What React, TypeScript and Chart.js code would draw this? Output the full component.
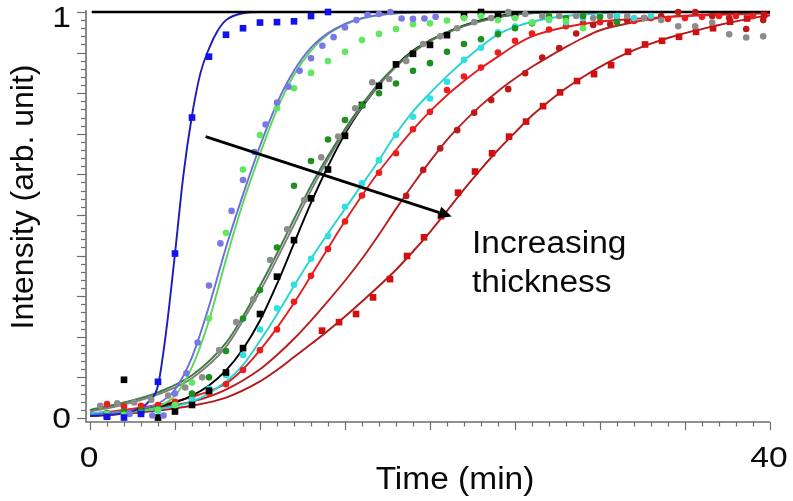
import React, { useEffect, useRef } from 'react';
import { Chart, registerables } from 'chart.js';

Chart.register(...registerables);

// ---------- axis ranges & tick labels ----------
const X_MIN = -0.235;
const X_MAX = 40;
const Y_MIN = -0.01;
const Y_MAX = 1.0;
const X_TICK_LABELS = [0, 40];
const Y_TICK_LABELS = [0, 1];
const X_MINOR_STEP = 1;
const X_MAJOR_EVERY = 5;
const Y_MINOR_STEP = 0.02;
const Y_MAJOR_EVERY = 5;
const X_TITLE = 'Time (min)';
const Y_TITLE = 'Intensity (arb. unit)';
const NOTE_LINES = ['Increasing', 'thickness'];
const ARROW_FROM = [6.8, 0.693];
const ARROW_TO = [21.28, 0.496];

// ---------- reference line at 1 ----------
const TOP_T = [0.1, 40];
const TOP_Y = [1, 1];

// ---------- blue squares ----------
const BLUE_PTS_T = [1, 2, 3, 4, 5, 6, 7, 8, 9, 10, 11, 12, 13, 14];
const BLUE_PTS_Y = [0.003, 0.001, 0.01, 0.089, 0.405, 0.74, 0.89, 0.944, 0.96, 0.974, 0.975, 0.977, 0.99, 1.0];
const BLUE_FIT_T = [0, 1, 2, 3, 3.5, 4, 4.5, 5, 5.5, 6, 6.5, 7, 7.5, 8, 9, 10, 12];
const BLUE_FIT_Y = [0.005, 0.007, 0.012, 0.025, 0.042, 0.08, 0.22, 0.405, 0.6, 0.745, 0.85, 0.91, 0.953, 0.98, 0.997, 1.0, 1.0];

// ---------- purple circles ----------
const PURPLE_PTS_T = [2.33, 3.67, 4.33, 5.0, 5.67, 6.33, 7.0, 7.67, 8.33, 9.0, 9.67, 10.33, 11.0, 11.67, 12.33, 13.0, 13.67, 14.33, 15.0, 15.67, 16.33, 17.0, 17.67, 18.33, 19.0, 19.67, 20.33];
const PURPLE_PTS_Y = [0.01, 0.006, 0.006, 0.06, 0.11, 0.186, 0.326, 0.43, 0.51, 0.586, 0.655, 0.723, 0.777, 0.816, 0.855, 0.886, 0.917, 0.938, 0.962, 0.98, 0.993, 0.995, 1.0, 0.984, 0.983, 0.984, 0.988];
const PURPLE_FIT_T = [0, 2, 3, 4, 5, 6, 7, 8, 9, 10, 11, 12, 13, 14, 15, 16, 17, 18, 20];
const PURPLE_FIT_Y = [0.008, 0.015, 0.022, 0.035, 0.07, 0.15, 0.275, 0.42, 0.55, 0.67, 0.775, 0.855, 0.912, 0.948, 0.971, 0.985, 0.993, 0.997, 1.0];

// ---------- light green circles ----------
const GREEN_PTS_T = [1, 2, 3, 4, 5, 6, 7, 8, 9, 10, 11, 12, 13, 14, 15, 16, 17, 18, 19, 20, 21, 22, 23, 24, 25, 26, 27, 28, 29];
const GREEN_PTS_Y = [0.01, 0.008, 0.012, 0.02, 0.032, 0.087, 0.245, 0.456, 0.612, 0.697, 0.763, 0.812, 0.85, 0.879, 0.902, 0.931, 0.946, 0.958, 0.97, 0.972, 0.979, 0.985, 0.99, 0.98, 0.985, 0.974, 0.982, 0.978, 0.96];
const GREEN_FIT_T = [0, 2, 3, 4, 5, 6, 7, 8, 9, 10, 11, 12, 13, 14, 15, 16, 17, 18, 20];
const GREEN_FIT_Y = [0.006, 0.012, 0.018, 0.028, 0.055, 0.125, 0.24, 0.39, 0.53, 0.65, 0.76, 0.845, 0.905, 0.945, 0.969, 0.984, 0.992, 0.997, 1.0];

// ---------- dark green circles ----------
const DKGREEN_PTS_T = [1, 2, 3, 4, 5, 6, 7, 8, 9, 10, 11, 12, 13, 14, 15, 16, 17, 18, 19, 20, 21, 22, 23, 24, 25, 26, 27, 28, 29, 30, 31];
const DKGREEN_PTS_Y = [0.012, 0.015, 0.018, 0.022, 0.032, 0.06, 0.1, 0.165, 0.245, 0.315, 0.42, 0.572, 0.633, 0.686, 0.734, 0.77, 0.8, 0.824, 0.855, 0.874, 0.902, 0.921, 0.933, 0.945, 0.96, 0.972, 0.99, 0.985, 0.99, 0.988, 0.975];
const DKGREEN_FIT_T = [0, 2, 4, 6, 8, 9, 10, 11, 12, 13, 14, 15, 16, 17, 18, 19, 20, 21, 22, 23, 24, 25, 27];
const DKGREEN_FIT_Y = [0.02, 0.038, 0.063, 0.105, 0.185, 0.25, 0.325, 0.405, 0.49, 0.572, 0.645, 0.712, 0.772, 0.825, 0.868, 0.903, 0.93, 0.95, 0.966, 0.978, 0.988, 0.994, 1.0];

// ---------- gray circles ----------
const GRAY_PTS_T = [0.6, 1.6, 2.6, 3.6, 4.6, 5.6, 6.6, 7.6, 8.6, 9.6, 10.6, 11.6, 12.6, 13.6, 14.6, 15.6, 16.6, 17.6, 18.6, 19.6, 20.6, 21.6, 22.6, 23.6, 24.6, 25.6, 26.6, 27.6, 28.6, 29.6, 30.6, 31.6, 32.6, 33.6, 34.6, 35.6, 36.6, 37.6, 38.6, 39.6];
const GRAY_PTS_Y = [0.03, 0.036, 0.038, 0.045, 0.055, 0.075, 0.1, 0.167, 0.236, 0.292, 0.389, 0.465, 0.537, 0.642, 0.693, 0.763, 0.827, 0.835, 0.879, 0.921, 0.94, 0.96, 0.975, 0.985, 1.0, 0.995, 0.99, 0.99, 0.99, 0.985, 0.99, 0.99, 0.985, 0.98, 0.965, 0.965, 0.974, 0.945, 0.937, 0.94];
const GRAY_FIT_T = [0, 2, 4, 6, 8, 9, 10, 11, 12, 13, 14, 15, 16, 17, 18, 19, 20, 21, 22, 23, 24, 25, 27];
const GRAY_FIT_Y = [0.016, 0.033, 0.058, 0.098, 0.175, 0.24, 0.312, 0.392, 0.476, 0.56, 0.637, 0.706, 0.767, 0.82, 0.865, 0.9, 0.928, 0.948, 0.965, 0.977, 0.987, 0.993, 1.0];

// ---------- black squares ----------
const BLACK_PTS_T = [1, 2, 3, 4, 5, 6, 7, 8, 9, 10, 11, 12, 13, 14, 15, 16, 17, 18, 19, 20, 21, 22, 23, 24, 25];
const BLACK_PTS_Y = [0.005, 0.094, 0.016, 0.001, 0.016, 0.032, 0.067, 0.112, 0.172, 0.256, 0.348, 0.438, 0.541, 0.612, 0.695, 0.771, 0.818, 0.871, 0.897, 0.919, 0.943, 0.993, 1.0, 0.993, 0.993];
const BLACK_FIT_T = [0, 2, 3, 4, 5, 6, 7, 8, 9, 10, 11, 12, 13, 14, 15, 16, 17, 18, 19, 20, 21, 22, 23, 24, 25, 27];
const BLACK_FIT_Y = [0.005, 0.012, 0.02, 0.028, 0.038, 0.055, 0.08, 0.117, 0.17, 0.24, 0.33, 0.43, 0.53, 0.62, 0.7, 0.765, 0.82, 0.868, 0.905, 0.93, 0.95, 0.967, 0.98, 0.99, 0.996, 1.0];

// ---------- cyan circles ----------
const CYAN_PTS_T = [4, 5, 6, 7, 8, 9, 10, 11, 12, 13, 14, 15, 16, 17, 18, 19, 20, 21, 22, 23, 24, 25, 26, 27, 28, 29, 30, 31, 32, 33];
const CYAN_PTS_Y = [0.018, 0.03, 0.045, 0.072, 0.105, 0.155, 0.218, 0.27, 0.328, 0.392, 0.448, 0.52, 0.578, 0.635, 0.697, 0.742, 0.787, 0.828, 0.882, 0.912, 0.95, 0.964, 0.974, 0.98, 0.975, 0.985, 0.99, 0.99, 0.985, 0.99];
const CYAN_FIT_T = [0, 2, 4, 6, 8, 9, 10, 11, 12, 13, 14, 15, 16, 17, 18, 19, 20, 21, 22, 23, 24, 25, 26, 28, 30, 32];
const CYAN_FIT_Y = [0.012, 0.015, 0.022, 0.04, 0.09, 0.13, 0.19, 0.255, 0.325, 0.392, 0.455, 0.515, 0.575, 0.635, 0.7, 0.755, 0.8, 0.842, 0.88, 0.915, 0.945, 0.963, 0.976, 0.99, 0.997, 1.0];

// ---------- red circles ----------
const RED_PTS_T = [1, 2, 3, 4, 5, 6, 7, 8, 9, 10, 11, 12, 13, 14, 15, 16, 17, 18, 19, 20, 21, 22, 23, 24, 25, 26, 27, 28, 29, 30, 31, 32, 33, 34, 35, 36, 37, 38, 39];
const RED_PTS_Y = [0.034, 0.028, 0.03, 0.032, 0.04, 0.048, 0.062, 0.083, 0.118, 0.167, 0.218, 0.286, 0.35, 0.416, 0.484, 0.548, 0.604, 0.652, 0.711, 0.754, 0.808, 0.841, 0.863, 0.9, 0.929, 0.947, 0.957, 0.965, 0.972, 0.975, 0.98, 0.978, 0.985, 0.983, 0.985, 0.988, 0.99, 0.99, 0.99];
const RED_FIT_T = [0, 2, 4, 6, 8, 9, 10, 11, 12, 13, 14, 15, 16, 17, 18, 19, 20, 21, 22, 23, 24, 25, 26, 28, 30, 32, 34, 37, 40];
const RED_FIT_Y = [0.01, 0.02, 0.032, 0.052, 0.085, 0.12, 0.167, 0.222, 0.283, 0.35, 0.418, 0.485, 0.548, 0.607, 0.66, 0.71, 0.755, 0.795, 0.83, 0.862, 0.89, 0.918, 0.94, 0.963, 0.976, 0.983, 0.988, 0.993, 0.997];

// ---------- dark red circles ----------
const DKRED_PTS_T = [18.6, 19.6, 20.6, 21.6, 22.6, 23.6, 24.6, 25.6, 26.6, 27.6, 28.6, 29.6, 30.6, 31.6, 32.6, 33.6, 34.6, 35.6, 36.6, 37.6, 38.6, 39.6];
const DKRED_PTS_Y = [0.547, 0.611, 0.664, 0.709, 0.752, 0.783, 0.81, 0.849, 0.888, 0.911, 0.947, 0.968, 0.97, 0.979, 0.985, 0.99, 1.0, 1.0, 0.99, 0.985, 0.958, 0.98];
const DKRED_FIT_T = [0, 2, 4, 6, 8, 10, 11, 12, 13, 14, 15, 16, 17, 18, 19, 20, 21, 22, 23, 24, 25, 26, 27, 28, 29, 30, 32, 34, 37, 40];
const DKRED_FIT_Y = [0.008, 0.015, 0.025, 0.04, 0.07, 0.12, 0.155, 0.195, 0.24, 0.288, 0.338, 0.392, 0.452, 0.515, 0.575, 0.632, 0.685, 0.73, 0.77, 0.805, 0.836, 0.865, 0.89, 0.914, 0.936, 0.955, 0.975, 0.988, 0.995, 0.998];

// ---------- red squares ----------
const RSQ_PTS_T = [13.65, 14.65, 15.65, 16.65, 17.65, 18.65, 19.65, 20.65, 21.65, 22.65, 23.65, 24.65, 25.65, 26.65, 27.65, 28.65, 29.65, 30.65, 31.65, 32.65, 33.65, 34.65, 35.65, 36.65, 37.65, 38.65, 39.65];
const RSQ_PTS_Y = [0.215, 0.236, 0.256, 0.297, 0.342, 0.399, 0.445, 0.497, 0.555, 0.607, 0.652, 0.693, 0.73, 0.768, 0.802, 0.83, 0.847, 0.869, 0.902, 0.92, 0.929, 0.939, 0.951, 0.96, 0.976, 0.984, 0.993];
const RSQ_FIT_T = [0, 2, 4, 6, 8, 10, 11, 12, 13, 14, 15, 16, 17, 18, 19, 20, 21, 22, 23, 24, 25, 26, 27, 28, 29, 30, 31, 32, 33, 34, 35, 36, 37, 38, 39, 40];
const RSQ_FIT_Y = [0.005, 0.01, 0.018, 0.03, 0.05, 0.09, 0.118, 0.15, 0.182, 0.215, 0.25, 0.287, 0.325, 0.365, 0.41, 0.458, 0.51, 0.563, 0.613, 0.66, 0.703, 0.745, 0.78, 0.812, 0.84, 0.865, 0.887, 0.906, 0.922, 0.936, 0.948, 0.958, 0.968, 0.977, 0.985, 0.992];

// ---------- styling (kept apart from data) ----------
type Series = { pt: number[]; py: number[]; ft: number[]; fy: number[]; pc: string; lc: string; shape: 'circle' | 'rect' };
const SERIES: Series[] = [
  { pt: BLUE_PTS_T, py: BLUE_PTS_Y, ft: BLUE_FIT_T, fy: BLUE_FIT_Y, pc: '#1212ee', lc: '#1c1cba', shape: 'rect' },
  { pt: PURPLE_PTS_T, py: PURPLE_PTS_Y, ft: PURPLE_FIT_T, fy: PURPLE_FIT_Y, pc: '#7878e6', lc: '#6c6cde', shape: 'circle' },
  { pt: GREEN_PTS_T, py: GREEN_PTS_Y, ft: GREEN_FIT_T, fy: GREEN_FIT_Y, pc: '#5fe85f', lc: '#58d858', shape: 'circle' },
  { pt: DKGREEN_PTS_T, py: DKGREEN_PTS_Y, ft: DKGREEN_FIT_T, fy: DKGREEN_FIT_Y, pc: '#1f8f1f', lc: '#3e7c44', shape: 'circle' },
  { pt: GRAY_PTS_T, py: GRAY_PTS_Y, ft: GRAY_FIT_T, fy: GRAY_FIT_Y, pc: '#8c8c8c', lc: '#7e7e7e', shape: 'circle' },
  { pt: BLACK_PTS_T, py: BLACK_PTS_Y, ft: BLACK_FIT_T, fy: BLACK_FIT_Y, pc: '#000000', lc: '#000000', shape: 'rect' },
  { pt: CYAN_PTS_T, py: CYAN_PTS_Y, ft: CYAN_FIT_T, fy: CYAN_FIT_Y, pc: '#30e0e0', lc: '#26d2d2', shape: 'circle' },
  { pt: RED_PTS_T, py: RED_PTS_Y, ft: RED_FIT_T, fy: RED_FIT_Y, pc: '#ef1c1c', lc: '#de2020', shape: 'circle' },
  { pt: DKRED_PTS_T, py: DKRED_PTS_Y, ft: DKRED_FIT_T, fy: DKRED_FIT_Y, pc: '#bf1818', lc: '#b81e1e', shape: 'circle' },
  { pt: RSQ_PTS_T, py: RSQ_PTS_Y, ft: RSQ_FIT_T, fy: RSQ_FIT_Y, pc: '#d01010', lc: '#b01a1a', shape: 'rect' },
];

const FONT = '"Liberation Sans", Arial, Helvetica, sans-serif';

function toXY(t: number[], y: number[]) {
  return t.map((v, i) => ({ x: v, y: y[i] }));
}

function drawText(ctx: CanvasRenderingContext2D, s: string, x: number, y: number, align: CanvasTextAlign, size: number, sx: number) {
  ctx.save();
  ctx.translate(x, y);
  ctx.scale(sx, 1);
  ctx.textAlign = align;
  ctx.textBaseline = 'alphabetic';
  ctx.font = `${size}px ${FONT}`;
  ctx.fillStyle = '#0a0a0a';
  ctx.fillText(s, 0, 0);
  ctx.restore();
}

const overlay = {
  id: 'overlay',
  afterDraw(chart: any) {
    const ctx: CanvasRenderingContext2D = chart.ctx;
    const xs = chart.scales.x;
    const ys = chart.scales.y;
    const ca = chart.chartArea;
    ctx.save();
    // axes
    ctx.strokeStyle = '#6e6e6e';
    ctx.lineWidth = 1.6;
    ctx.beginPath();
    ctx.moveTo(ca.left, ca.top - 2);
    ctx.lineTo(ca.left, ca.bottom);
    ctx.lineTo(ca.right, ca.bottom);
    ctx.stroke();
    // x ticks
    ctx.lineWidth = 1.2;
    const nx = Math.round(X_MAX / X_MINOR_STEP);
    for (let k = 0; k <= nx; k++) {
      const px = Math.round(xs.getPixelForValue(k * X_MINOR_STEP)) + 0.5;
      const len = k % X_MAJOR_EVERY === 0 ? 8 : 4.5;
      ctx.beginPath();
      ctx.moveTo(px, ca.bottom);
      ctx.lineTo(px, ca.bottom + len);
      ctx.stroke();
    }
    // y ticks
    const ny = Math.round(Y_MAX / Y_MINOR_STEP);
    for (let k = 0; k <= ny; k++) {
      const py = Math.round(ys.getPixelForValue(k * Y_MINOR_STEP)) + 0.5;
      const len = k % Y_MAJOR_EVERY === 0 ? 9 : 5;
      ctx.beginPath();
      ctx.moveTo(ca.left, py);
      ctx.lineTo(ca.left - len, py);
      ctx.stroke();
    }
    // tick labels
    X_TICK_LABELS.forEach((v) => {
      drawText(ctx, String(v), xs.getPixelForValue(v) - 1, ca.bottom + 45, 'center', 30, 1.12);
    });
    Y_TICK_LABELS.forEach((v) => {
      const py = ys.getPixelForValue(v);
      drawText(ctx, String(v), ca.left - 15, Math.max(py + 10, ca.top + 15), 'right', 30, 1.12);
    });
    // axis titles
    drawText(ctx, X_TITLE, (ca.left + ca.right) / 2 + 27, ca.bottom + 67, 'center', 31, 1.08);
    ctx.save();
    ctx.translate(ca.left - 53, (ca.top + ca.bottom) / 2 - 20);
    ctx.rotate(-Math.PI / 2);
    ctx.textAlign = 'center';
    ctx.textBaseline = 'alphabetic';
    ctx.font = `32px ${FONT}`;
    ctx.fillStyle = '#0a0a0a';
    ctx.fillText(Y_TITLE, 0, 0);
    ctx.restore();
    // arrow
    const x1 = xs.getPixelForValue(ARROW_FROM[0]);
    const y1 = ys.getPixelForValue(ARROW_FROM[1]);
    const x2 = xs.getPixelForValue(ARROW_TO[0]);
    const y2 = ys.getPixelForValue(ARROW_TO[1]);
    const ang = Math.atan2(y2 - y1, x2 - x1);
    const hl = 13;
    const hw = 6;
    const bx = x2 - hl * Math.cos(ang);
    const by = y2 - hl * Math.sin(ang);
    ctx.strokeStyle = '#000';
    ctx.fillStyle = '#000';
    ctx.lineWidth = 2.8;
    ctx.beginPath();
    ctx.moveTo(x1, y1);
    ctx.lineTo(bx, by);
    ctx.stroke();
    ctx.beginPath();
    ctx.moveTo(x2, y2);
    ctx.lineTo(bx + hw * Math.sin(ang), by - hw * Math.cos(ang));
    ctx.lineTo(bx - hw * Math.sin(ang), by + hw * Math.cos(ang));
    ctx.closePath();
    ctx.fill();
    // annotation text
    drawText(ctx, NOTE_LINES[0], 472, 253, 'left', 31, 1.08);
    drawText(ctx, NOTE_LINES[1], 472, 292, 'left', 31, 1.08);
    ctx.restore();
  },
};

export default function App() {
  const ref = useRef<HTMLCanvasElement | null>(null);
  useEffect(() => {
    if (!ref.current) return;
    const datasets: any[] = [];
    SERIES.forEach((s) => {
      datasets.push({
        data: toXY(s.pt, s.py),
        showLine: false,
        pointStyle: s.shape,
        pointRadius: s.shape === 'rect' ? 4.7 : 3.3,
        pointBackgroundColor: s.pc,
        pointBorderColor: s.pc,
        pointBorderWidth: 0,
        clip: false,
        order: 1,
      });
    });
    SERIES.forEach((s) => {
      datasets.push({
        data: toXY(s.ft, s.fy),
        showLine: true,
        pointRadius: 0,
        borderColor: s.lc,
        borderWidth: 1.9,
        cubicInterpolationMode: 'monotone',
        fill: false,
        clip: false,
        order: 3,
      });
    });
    datasets.push({
      data: toXY(TOP_T, TOP_Y),
      showLine: true,
      pointRadius: 0,
      borderColor: '#000000',
      borderWidth: 2.6,
      fill: false,
      clip: false,
      order: 2,
    });
    const chart = new Chart(ref.current, {
      type: 'scatter',
      data: { datasets },
      options: {
        animation: false,
        responsive: false,
        events: [],
        layout: { padding: { left: 86, right: 23, top: 12, bottom: 79 } },
        plugins: { legend: { display: false }, tooltip: { enabled: false } },
        scales: {
          x: { type: 'linear', min: X_MIN, max: X_MAX, display: false },
          y: { type: 'linear', min: Y_MIN, max: Y_MAX, display: false },
        },
      },
      plugins: [overlay],
    });
    return () => chart.destroy();
  }, []);
  return (
    <div style={{ position: 'fixed', left: 0, top: 0, width: 793, height: 501, background: '#fff' }}>
      <canvas ref={ref} width={793} height={501} style={{ width: 793, height: 501, display: 'block' }} />
    </div>
  );
}
